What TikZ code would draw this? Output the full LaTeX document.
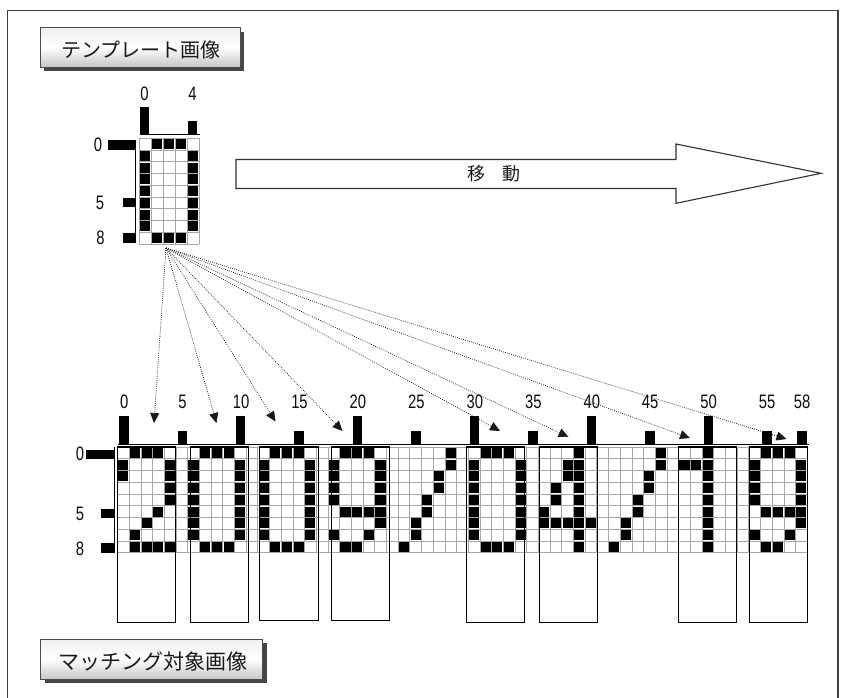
\documentclass[tikz,border=0pt]{standalone}
\usepackage{fontspec}
\newfontfamily\jpfont{Noto Sans CJK JP}
\newfontfamily\numfont[FakeStretch=0.76]{Liberation Sans}
\usetikzlibrary{arrows.meta}
\newcommand\drawpat[6]{%
  \edef\patlist{#6}%
  \foreach \cc/\rr in \patlist {\fill[blk] ({#1+(#5+\cc)*#3+0.8},{#2+\rr*#4+0.8}) rectangle +({#3-1.6},{#4-1.6});}%
}
\def\patZero{1/0,2/0,3/0,0/1,4/1,0/2,4/2,0/3,4/3,0/4,4/4,0/5,4/5,0/6,4/6,0/7,4/7,1/8,2/8,3/8}
\def\patTwo{1/0,2/0,3/0,0/1,4/1,0/2,4/2,4/3,4/4,3/5,2/6,1/7,1/8,2/8,3/8,4/8}
\def\patNine{1/0,2/0,3/0,0/1,4/1,0/2,4/2,0/3,4/3,0/4,4/4,1/5,2/5,3/5,4/5,4/6,0/7,3/7,1/8,2/8}
\def\patSlash{4/0,4/1,3/2,3/3,2/4,2/5,1/6,1/7,0/8}
\def\patFour{3/0,2/1,3/1,2/2,3/2,1/3,3/3,1/4,3/4,0/5,3/5,0/6,1/6,2/6,3/6,4/6,3/7,3/8}
\def\patOne{2/0,0/1,1/1,2/1,2/2,2/3,2/4,2/5,2/6,2/7,2/8}
\tikzset{
  gridln/.style={draw=gray!70, line width=0.6pt},
  blk/.style={fill=black},
  cbox/.style={draw=black, line width=1.1pt},
  barfill/.style={fill=black},
  axisln/.style={draw=black, line width=1pt},
  numlbl/.style={font=\numfont\fontsize{19.5}{19.5}\selectfont, inner sep=0pt, anchor=center, text=gray!10!black},
  jplbl/.style={font=\jpfont\fontsize{20}{20}\selectfont, inner sep=0pt, text=gray!20!black},
  ptr/.style={draw=gray!20!black, line width=0.7pt, dash pattern=on 0.8pt off 1.3pt, -{Triangle[length=10pt,width=9pt]}},
  btnshadow/.style={fill=gray!55!black, draw=none},
  btn/.style={draw=gray!60!black, line width=0.8pt, top color=gray!12, bottom color=gray!45, middle color=white},
  bigarrow/.style={draw=gray!40!black, line width=1.1pt, fill=white},
  frm/.style={draw=gray!50!black, line width=1.2pt},
}
\begin{document}
\begin{tikzpicture}[x=1pt,y=-1pt]
\fill[white] (0,0) rectangle (843,698);
\useasboundingbox (0,0) rectangle (843,698);
% frame
\draw[frm] (7.5,699) -- (7.5,10.8) -- (838,10.8) -- (838,699);
% buttons
\fill[btnshadow] (44.3,32) rectangle (244.3,71);
\draw[btn] (40,27.7) rectangle (240,67);
\node[jplbl] (ttl) at (141,50) {テンプレート画像};
\fill[btnshadow] (44.7,643.3) rectangle (266.7,683.3);
\draw[btn] (40.7,639.3) rectangle (262.7,679.3);
\node[jplbl, font=\jpfont\fontsize{21}{21}\selectfont] (ttl2) at (152.5,661.5) {マッチング対象画像};
% big arrow
\draw[bigarrow] (236,159.5) -- (676,159.5) -- (676,144) -- (821,173.3) -- (676,203.3) -- (676,188.5) -- (236,188.5) -- cycle;
\node[jplbl, font=\jpfont\fontsize{18}{18}\selectfont] (mv) at (494,173.5) {移\hspace{0.95em}動};
% ---------- template ----------
\def\TX{139.3}\def\TW{11.94}\def\TY{138.3}\def\TH{11.74}
\foreach \i in {0,...,5} \draw[gridln] ({\TX+\i*\TW},\TY) -- ({\TX+\i*\TW},{\TY+9*\TH});
\foreach \j in {0,...,9} \draw[gridln] (\TX,{\TY+\j*\TH}) -- ({\TX+5*\TW},{\TY+\j*\TH});
\drawpat{\TX}{\TY}{\TW}{\TH}{0}{\patZero}
\draw[axisln] (140,134.3) -- (200,134.3);
\fill[barfill] (140,107.3) rectangle (149.3,134.3);
\fill[barfill] (187.7,121) rectangle (196.7,134.3);
\draw[axisln] (135.5,140) -- (135.5,243);
\fill[barfill] (108.3,140) rectangle (135.5,149.5);
\fill[barfill] (122.7,198) rectangle (135.5,206.7);
\fill[barfill] (122.7,233) rectangle (135.5,242.5);
\node[numlbl] (tc0) at (144.5,93.3) {0};
\node[numlbl] (tc4) at (192.5,93.3) {4};
\node[numlbl] (tr0) at (98,145) {0};
\node[numlbl] (tr5) at (100,203) {5};
\node[numlbl] (tr8) at (100.5,237.5) {8};
% ---------- main grid ----------
\def\GX{117.5}\def\GW{11.69}\def\GY{447}\def\GH{11.75}
\foreach \i in {0,...,59} \draw[gridln] ({\GX+\i*\GW},\GY) -- ({\GX+\i*\GW},{\GY+9*\GH});
\foreach \j in {0,...,9} \draw[gridln] (\GX,{\GY+\j*\GH}) -- ({\GX+59*\GW},{\GY+\j*\GH});
\drawpat{\GX}{\GY}{\GW}{\GH}{0}{\patTwo}
\drawpat{\GX}{\GY}{\GW}{\GH}{6}{\patZero}
\drawpat{\GX}{\GY}{\GW}{\GH}{12}{\patZero}
\drawpat{\GX}{\GY}{\GW}{\GH}{18}{\patNine}
\drawpat{\GX}{\GY}{\GW}{\GH}{24}{\patSlash}
\drawpat{\GX}{\GY}{\GW}{\GH}{30}{\patZero}
\drawpat{\GX}{\GY}{\GW}{\GH}{36}{\patFour}
\drawpat{\GX}{\GY}{\GW}{\GH}{42}{\patSlash}
\drawpat{\GX}{\GY}{\GW}{\GH}{48}{\patOne}
\drawpat{\GX}{\GY}{\GW}{\GH}{54}{\patNine}
% character boxes
\foreach \l/\r/\b in {117.7/175.4/622.7, 190.5/248.7/622.7, 259.4/318.2/620.3, 331.1/389.8/620.3, 466.3/524.5/622.7, 539.1/597.3/622.7, 678.1/736.3/622.7, 749.2/807.4/622.7}
  \draw[cbox] (\l,\GY) rectangle (\r,\b);
% column histogram
\draw[axisln] (117.5,444.5) -- (808.5,444.5);
\foreach \cc in {0,10,20,30,40,50}
  \fill[barfill] ({\GX+(\cc+0.5)*\GW+0.5-4.75},416) rectangle ({\GX+(\cc+0.5)*\GW+0.5+4.75},444.5);
\foreach \cc in {5,15,25,35,45,55,58}
  \fill[barfill] ({\GX+(\cc+0.5)*\GW+0.5-4.75},430.7) rectangle ({\GX+(\cc+0.5)*\GW+0.5+4.75},444.5);
\foreach \cc in {0,5,10,15,20,25,30,35,40,45,50,55,58}
  \node[numlbl] (mc\cc) at ({\GX+(\cc+0.5)*\GW+0.8},401.7) {\cc};
% row histogram
\draw[axisln] (114.3,447) -- (114.3,553.3);
\fill[barfill] (86,450) rectangle (114.3,459);
\fill[barfill] (100.7,508.7) rectangle (114.3,518.3);
\fill[barfill] (100.7,543.3) rectangle (114.3,553.3);
\node[numlbl] (mr0) at (80,454) {0};
\node[numlbl] (mr5) at (80,514) {5};
\node[numlbl] (mr8) at (80,548.5) {8};
% dotted pointers
\coordinate (src) at (166,248);
\coordinate (t1) at (154,423);
\coordinate (t2) at (216.5,423);
\coordinate (t3) at (275.5,421.5);
\coordinate (t4) at (342.5,431);
\coordinate (t5) at (500,431);
\coordinate (t6) at (568.5,437);
\coordinate (t7) at (690,438);
\coordinate (t8) at (786.5,439);
\foreach \k in {1,...,8} \draw[ptr] (src) -- (t\k);
\end{tikzpicture}
\end{document}
